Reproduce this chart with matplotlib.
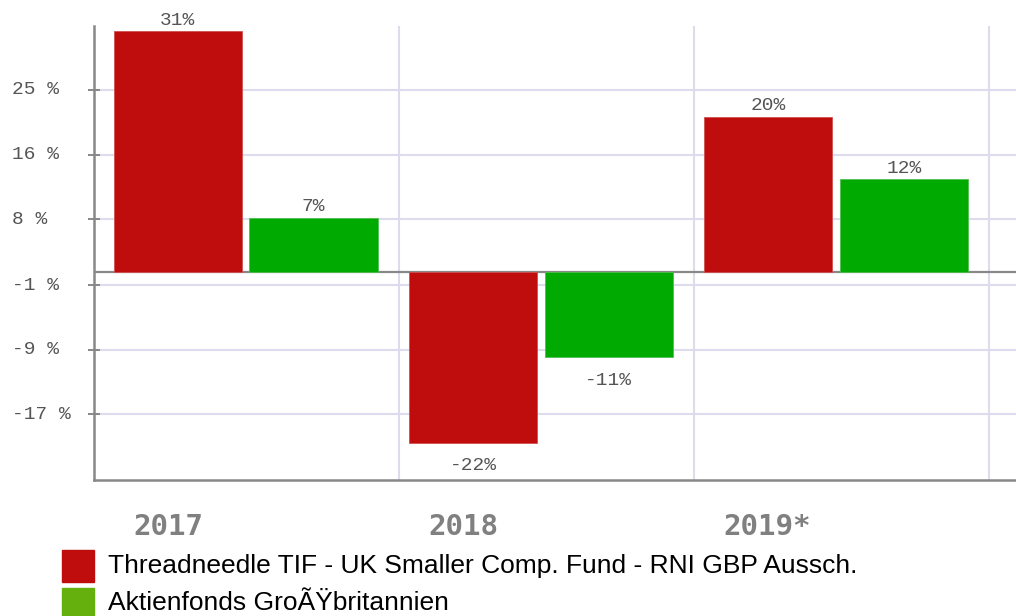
import matplotlib
matplotlib.use("Agg")
import matplotlib.pyplot as plt
import matplotlib.transforms as mtransforms
from matplotlib.patches import Rectangle

years = ['2017', '2018', '2019*']
fund = [31, -22, 20]
category = [7, -11, 12]
fund_name = 'Threadneedle TIF - UK Smaller Comp. Fund - RNI GBP Aussch.'
category_name = 'Aktienfonds Gro\u00c3\u0178britannien'

# y ticks: the chart labels them with rounded values
tick_pos = [23.5, 15.1, 6.8, -1.7, -10.0, -18.3]
tick_labels = ['25 %', '16 %', '8 %', '-1 %', '-9 %', '-17 %']

RED = '#BF0D0D'
GREEN = '#00AA00'
LEGEND_GREEN = '#66B00E'
GRID = '#DCDCEE'
AXIS = '#888888'

fig = plt.figure(figsize=(10.16, 6.16), dpi=100)
ax = fig.add_axes([94/1016, 136/616, 922/1016, 454/616])

w = 0.435
for i in range(len(years)):
    ax.bar(i + 0.25, fund[i], width=w, color=RED, edgecolor='#D05050', linewidth=0.6, zorder=3)
    ax.bar(i + 0.71, category[i], width=w, color=GREEN, edgecolor='#50C050', linewidth=0.6, zorder=3)
    for x, v in ((i + 0.25, fund[i]), (i + 0.71, category[i])):
        if v >= 0:
            ax.text(x, v + 0.3, '%d%%' % v, ha='center', va='bottom', fontsize=14,
                    family='Liberation Mono', color='#555555', zorder=4)
        else:
            ax.text(x, v - 1.9, '%d%%' % v, ha='center', va='top', fontsize=14,
                    family='Liberation Mono', color='#555555', zorder=4)

ax.set_xlim(-0.034, 3.09)
ax.set_ylim(-26.8, 31.7)

for p in tick_pos:
    ax.axhline(p, color=GRID, lw=1.5, zorder=1)
for gx in (1, 2, 3):
    ax.axvline(gx, color=GRID, lw=1.5, zorder=1)
ax.axhline(0, color=AXIS, lw=1.6, zorder=2)

ax.set_xticks([])
ax.set_yticks(tick_pos)
ax.set_yticklabels([])
ax.tick_params(axis='y', direction='inout', length=8.6, width=1.4, color=AXIS)

for s in ('top', 'right'):
    ax.spines[s].set_visible(False)
for s in ('left', 'bottom'):
    ax.spines[s].set_color(AXIS)
    ax.spines[s].set_linewidth(1.8)

trans = mtransforms.blended_transform_factory(fig.transFigure, ax.transData)
for p, lab in zip(tick_pos, tick_labels):
    ax.text(12/1016, p, lab, transform=trans, ha='left', va='center', fontsize=14,
            family='Liberation Mono', color='#555555')

for i, y in enumerate(years):
    ax.text(i + 0.1, -32.9, y, ha='left', va='center', fontsize=21, fontweight='bold',
            family='DejaVu Sans Mono', color='#808080', clip_on=False)

# legend
fig.patches.append(Rectangle((62/1016, (616-582)/616), 32/1016, 32/616,
                             transform=fig.transFigure, color=RED))
fig.patches.append(Rectangle((62/1016, 0), 32/1016, 28/616,
                             transform=fig.transFigure, color=LEGEND_GREEN))
fig.text(108/1016, (616-566)/616, fund_name, ha='left', va='center', fontsize=19,
         family='Liberation Sans', color='black')
fig.text(108/1016, (616-603)/616, category_name, ha='left', va='center', fontsize=19,
         family='Liberation Sans', color='black')

fig.savefig('out.png', dpi=100)
